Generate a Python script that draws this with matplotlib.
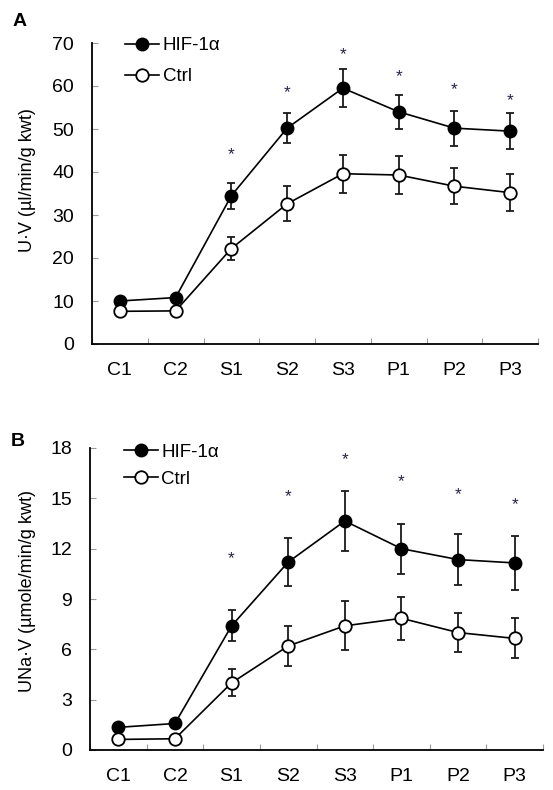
import matplotlib
matplotlib.use('Agg')
import matplotlib.pyplot as plt
import numpy as np

plt.rcParams['font.family'] = ['Liberation Sans', 'DejaVu Sans']

labels = ['C1', 'C2', 'S1', 'S2', 'S3', 'P1', 'P2', 'P3']

# panel A, U.V
uv_hif = [10.0, 10.8, 34.5, 50.2, 59.5, 54.0, 50.2, 49.5]
uv_hif_err = [0.6, 0.7, 3.0, 3.5, 4.4, 3.9, 4.1, 4.2]
uv_ctrl = [7.6, 7.7, 22.2, 32.6, 39.6, 39.3, 36.7, 35.2]
uv_ctrl_err = [0.4, 0.4, 2.7, 4.1, 4.4, 4.4, 4.2, 4.3]
uv_star = [None, None, 44.0, 58.5, 67.4, 62.2, 59.2, 56.7]

# panel B, UNa.V
una_hif = [1.35, 1.58, 7.4, 11.2, 13.65, 12.0, 11.35, 11.15]
una_hif_err = [0.15, 0.2, 0.93, 1.45, 1.8, 1.5, 1.5, 1.6]
una_ctrl = [0.63, 0.67, 4.0, 6.2, 7.4, 7.85, 7.0, 6.65]
una_ctrl_err = [0.1, 0.1, 0.8, 1.2, 1.46, 1.27, 1.17, 1.19]
una_star = [None, None, 11.4, 15.1, 17.3, 16.0, 15.25, 14.6]

fig = plt.figure(figsize=(5.53, 7.9), dpi=100)
axA = fig.add_axes([92/553, 1-344/790, 446/553, 301/790])
axB = fig.add_axes([90/553, 1-750/790, 453/553, 302/790])


def draw_panel(ax, hif, hif_err, ctrl, ctrl_err, stars, ymax, ystep, ylabel, leg_y, leg_sp):
    x = np.arange(len(labels))
    ax.errorbar(x, hif, yerr=hif_err, fmt='none', ecolor='#1a1a1a',
                elinewidth=1.3, capsize=3.2, capthick=1.3, zorder=2)
    h1, = ax.plot(x, hif, '-o', color='black', lw=1.2, ms=9,
                  mfc='black', mec='black', zorder=3, label='HIF-1\u03b1')
    ax.errorbar(x, ctrl, yerr=ctrl_err, fmt='none', ecolor='#1a1a1a',
                elinewidth=1.3, capsize=3.2, capthick=1.3, zorder=4)
    h2, = ax.plot(x, ctrl, '-o', color='black', lw=1.2, ms=9,
                  mfc='white', mec='black', mew=1.3, zorder=5, label='Ctrl')
    for xi, s in zip(x, stars):
        if s is not None:
            ax.text(xi, s, '*', ha='center', va='center', fontsize=12.5, color='#222244')

    ax.set_xlim(-0.5, len(labels) - 0.5)
    ax.set_ylim(0, ymax)
    ax.set_yticks(np.arange(0, ymax + 0.1, ystep))
    ax.set_xticks(np.arange(-0.5, len(labels), 1.0))
    ax.set_xticklabels([])
    ax.set_xticks(x, minor=True)
    ax.set_xticklabels(labels, minor=True)
    ax.tick_params(axis='x', which='major', direction='in', length=4, color='#999999')
    ax.tick_params(axis='x', which='minor', length=0, pad=13, labelsize=14)
    ax.tick_params(axis='y', direction='in', length=4, color='#999999', pad=13, labelsize=14)
    for sp in ['top', 'right']:
        ax.spines[sp].set_visible(False)
    for sp in ['left', 'bottom']:
        ax.spines[sp].set_linewidth(1.3)
    ax.set_ylabel(ylabel, fontsize=13)
    ax.legend(handles=[h1, h2], loc='upper left', bbox_to_anchor=(0.075, leg_y),
              frameon=False, fontsize=13.5, handlelength=1.8, handletextpad=0.2,
              labelspacing=leg_sp, borderpad=0, borderaxespad=0)
    return ax


draw_panel(axA, uv_hif, uv_hif_err, uv_ctrl, uv_ctrl_err, uv_star, 70, 10,
           'U\u00b7V (\u00b5l/min/g kwt)', 1.02, 0.75)
draw_panel(axB, una_hif, una_hif_err, una_ctrl, una_ctrl_err, una_star, 18, 3,
           'UNa\u00b7V (\u00b5mole/min/g kwt)', 1.015, 0.55)
axA.yaxis.set_label_coords(-56/446, 0.545)
axB.yaxis.set_label_coords(-54/453, 0.525)

fig.text(20/553, 1-21/790, 'A', fontsize=14, fontweight='bold', ha='center', va='center')
fig.text(18/553, 1-441/790, 'B', fontsize=14, fontweight='bold', ha='center', va='center')

fig.savefig('out.png', dpi=100)
